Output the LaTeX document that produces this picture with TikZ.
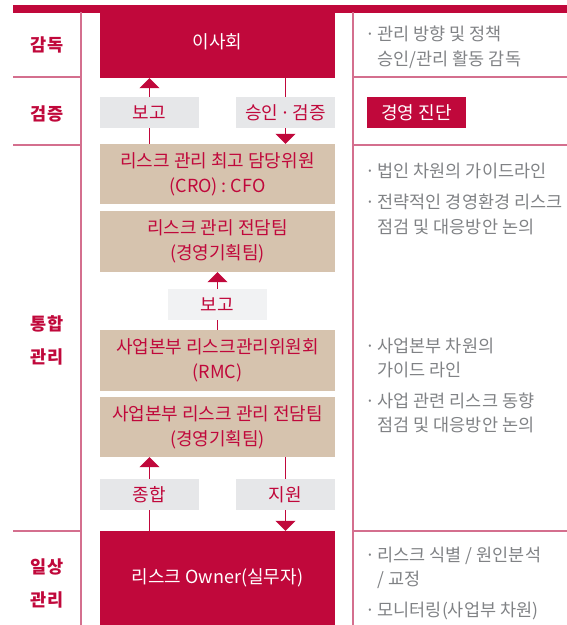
\documentclass[tikz,border=0pt]{standalone}
\usepackage{fontspec}
\setmainfont{Noto Sans CJK KR}
\usetikzlibrary{arrows.meta}
\definecolor{crim}{HTML}{C0083B}
\definecolor{tanc}{HTML}{D6C3AE}
\definecolor{grayb}{HTML}{E6E7E9}
\definecolor{graylt}{HTML}{F1F2F3}
\definecolor{notegray}{HTML}{808285}
\definecolor{sepc}{HTML}{D46F8E}
\tikzset{
 redbox/.style={fill=crim, text=white, minimum width=235pt, inner sep=0pt, align=center, font=\fontsize{18}{22}\selectfont},
 tanbox/.style={fill=tanc, text=crim, minimum width=235pt, inner sep=0pt, align=center, font=\fontsize{18}{25}\selectfont},
 graybox/.style={fill=grayb, text=crim, minimum width=99pt, minimum height=31pt, inner sep=0pt, font=\fontsize{18}{22}\selectfont},
 sidelabel/.style={text=crim, align=center, inner sep=0pt, font=\bfseries\fontsize{17.5}{33}\selectfont},
 note/.style={text=notegray, anchor=west, align=left, inner sep=0pt, font=\fontsize{17.5}{24.5}\selectfont},
 sepline/.style={draw=sepc, line width=1.2pt},
 arr/.style={draw=crim, line width=1.6pt, -{Triangle[width=20pt,length=10pt]}},
 link/.style={draw=crim, line width=1.6pt},
}
\newcommand{\bul}{·\hspace{0.15em}}
\newcommand{\ind}{\hphantom{·\hspace{0.15em}}}
\begin{document}
\begin{tikzpicture}[x=1pt,y=-1pt]
\useasboundingbox (0,0) rectangle (567,625);
% frame lines
\fill[crim] (13,5) rectangle (567,12.5);
\draw[sepline] (81,12) -- (81,625);
\draw[sepline] (353,12) -- (353,625);
\foreach \yy in {77,145,531}{
  \draw[sepline] (13,\yy) -- (81,\yy);
  \draw[sepline] (353,\yy) -- (567,\yy);
}
% left labels
\node[sidelabel] (l1) at (47,45) {감독};
\node[sidelabel] (l2) at (47,114) {검증};
\node[sidelabel] (l3) at (47,340.5) {통합\\관리};
\node[sidelabel] (l4) at (47,583.5) {일상\\관리};
% boxes
\node[redbox, minimum height=73pt] (board) at (217.5,41.5) {이사회};
\node[graybox] (rep1) at (149.5,112.5) {보고};
\node[graybox] (app) at (285.5,112.5) {승인\hspace{0.12em}·\hspace{0.12em}검증};
\node[tanbox, minimum height=60pt] (t1) at (217.5,174) {리스크 관리 최고 담당위원\\(CRO) : CFO};
\node[tanbox, minimum height=61pt] (t2) at (217.5,241.5) {리스크 관리 전담팀\\(경영기획팀)};
\node[graybox, fill=graylt] (rep2) at (217.5,304.5) {보고};
\node[tanbox, minimum height=61pt] (t3) at (217.5,360.5) {사업본부 리스크관리위원회\\(RMC)};
\node[tanbox, minimum height=60pt] (t4) at (217.5,427) {사업본부 리스크 관리 전담팀\\(경영기획팀)};
\node[graybox] (sum) at (149.5,494.5) {종합};
\node[graybox] (sup) at (285.5,494.5) {지원};
\node[redbox, minimum height=94pt] (owner) at (217.5,578) {리스크 Owner(실무자)};
% connectors
\draw[link] (t1.north -| rep1.south) -- (rep1.south);
\draw[arr] (rep1.north) -- (board.south -| rep1.north);
\draw[link] (board.south -| app.north) -- (app.north);
\draw[arr] (app.south) -- (t1.north -| app.south);
\draw[link] (t3.north) -- (rep2.south);
\draw[arr] (rep2.north) -- (t2.south);
\draw[link] (owner.north -| sum.south) -- (sum.south);
\draw[arr] (sum.north) -- (t4.south -| sum.north);
\draw[link] (t4.south -| sup.north) -- (sup.north);
\draw[arr] (sup.south) -- (owner.north -| sup.south);
% right notes
\node[note] (n1) at (365,47.5) {\bul 관리 방향 및 정책\\\ind 승인/관리 활동 감독};
\node[fill=crim, text=white, minimum width=99pt, minimum height=31pt, inner sep=0pt, font=\fontsize{18}{22}\selectfont] (diag) at (416.5,112.5) {경영 진단};
\node[note] (n2) at (365,171) {\bul 법인 차원의 가이드라인};
\node[note] (n3) at (365,214.5) {\bul 전략적인 경영환경 리스크\\\ind 점검 및 대응방안 논의};
\node[note] (n4) at (365,358) {\bul 사업본부 차원의\\\ind 가이드 라인};
\node[note] (n5) at (365,413) {\bul 사업 관련 리스크 동향\\\ind 점검 및 대응방안 논의};
\node[note] (n6) at (365,568) {\bul 리스크 식별 / 원인분석\\\ind / 교정};
\node[note] (n7) at (365,611) {\bul 모니터링(사업부 차원)};
\end{tikzpicture}
\end{document}
